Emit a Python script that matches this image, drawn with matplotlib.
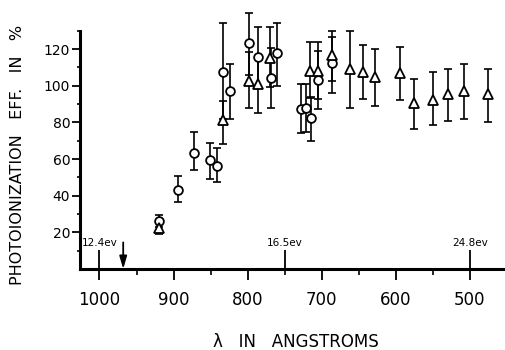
import matplotlib
matplotlib.use("Agg")
import matplotlib.pyplot as plt
import numpy as np

# ---- data (wavelength in Angstrom, efficiency in %) ----
circ_wl = [920, 894, 872, 851, 842, 833, 824, 798, 786.5, 769, 760, 728.5, 721.3, 715, 704.7, 686.6]
circ_val = [26, 43, 63.5, 59.5, 56.4, 107.6, 97.3, 123.1, 115.8, 104.4, 117.7, 87.1, 87.7, 82.5, 103.1, 112.5]
circ_lo = [3, 6.5, 9.5, 10.5, 9, 26, 15.3, 17, 16.4, 16.4, 17.9, 12.7, 13, 12.5, 16, 16.3]
circ_hi = [3.5, 7.5, 11, 9.4, 9.4, 26.4, 14.4, 16.7, 16.4, 16, 16.3, 13.9, 13, 11.5, 16, 14]

tri_wl = [920, 833, 798, 785.7, 770, 715.9, 704.7, 686.6, 661.9, 644.8, 628.2, 594.5, 575.2, 549.5, 529.3, 507.7, 475.3]
tri_val = [22.5, 81.3, 102.6, 100.7, 115.2, 108.2, 108, 116.7, 108.9, 107.6, 104.6, 107.1, 90.4, 92.2, 95.5, 97.3, 95.5]
tri_lo = [3.5, 13.1, 15, 15.4, 16, 15, 15, 14, 21, 15, 15.7, 14.9, 13.8, 13.8, 14.8, 15.6, 15.1]
tri_hi = [3, 10.5, 15.6, 15, 17, 15.5, 15.7, 13.3, 21, 14.6, 15.3, 14.2, 13.3, 15.4, 13.6, 14.4, 13.5]

x_ticks = [1000, 900, 800, 700, 600, 500]
x_minor = [950, 850, 750, 650, 550]
y_ticks = [20, 40, 60, 80, 100, 120]
y_minor = [10, 30, 50, 70, 90, 110, 130]

ev_labels = ["12.4ev", "16.5ev", "24.8ev"]
ev_wl = [1000, 750, 500]
arrow_wl = 968

# ---- figure ----
fig = plt.figure(figsize=(5.06, 3.5), dpi=100)
ax = fig.add_axes([80/506, 1-269/350, 1-80/506, (269-30.7)/350])

ax.set_xlim(1026.3, 451.4)
ax.set_ylim(0, 130)

ekw = dict(fmt='none', ecolor='black', elinewidth=1.2, capsize=2.8, capthick=1.2, clip_on=False)
ax.errorbar(circ_wl, circ_val, yerr=[circ_lo, circ_hi], **ekw)
ax.errorbar(tri_wl, tri_val, yerr=[tri_lo, tri_hi], **ekw)
ax.plot(circ_wl, circ_val, 'o', ms=6.3, mfc='white', mec='black', mew=1.3, clip_on=False, zorder=3)
ax.plot(tri_wl, tri_val, '^', ms=6.5, mfc='white', mec='black', mew=1.3, clip_on=False, zorder=3)

for sp in ['top', 'right']:
    ax.spines[sp].set_visible(False)
for sp in ['left', 'bottom']:
    ax.spines[sp].set_linewidth(2.2)

ax.set_xticks(x_ticks)
ax.set_xticks(x_minor, minor=True)
ax.set_yticks(y_ticks)
ax.set_yticks(y_minor, minor=True)
ax.tick_params(axis='x', which='major', direction='out', length=8, width=1.3, pad=8, labelsize=12)
ax.tick_params(axis='x', which='minor', direction='out', length=4.3, width=1.2)
ax.tick_params(axis='y', which='major', direction='out', length=6, width=1.3, pad=1, labelsize=10)
ax.tick_params(axis='y', which='minor', direction='out', length=2.5, width=1.2)

# eV markers
ax.vlines(ev_wl, 0, 10.5, colors='black', lw=1.3, clip_on=False)
for lab, wl in zip(ev_labels, ev_wl):
    ax.text(wl, 11.2, lab, ha='center', va='bottom', fontsize=7.5)

ax.annotate('', xy=(arrow_wl, 0), xytext=(arrow_wl, 14.5),
            arrowprops=dict(arrowstyle='-|>,head_length=0.75,head_width=0.22',
                            color='black', lw=1.3, shrinkA=0, shrinkB=0))

ax.set_ylabel('PHOTOIONIZATION   EFF.   IN   %', fontsize=11.5)
ax.yaxis.set_label_coords((18-80)/426, (269-155)/238.3)
ax.set_xlabel('λ   IN   ANGSTROMS', fontsize=12)
ax.xaxis.set_label_coords((296-80)/426, -(342-269)/238.3)
ax.xaxis.label.set_va('center')
ax.yaxis.label.set_va('center')

fig.savefig('out.png', dpi=100)
